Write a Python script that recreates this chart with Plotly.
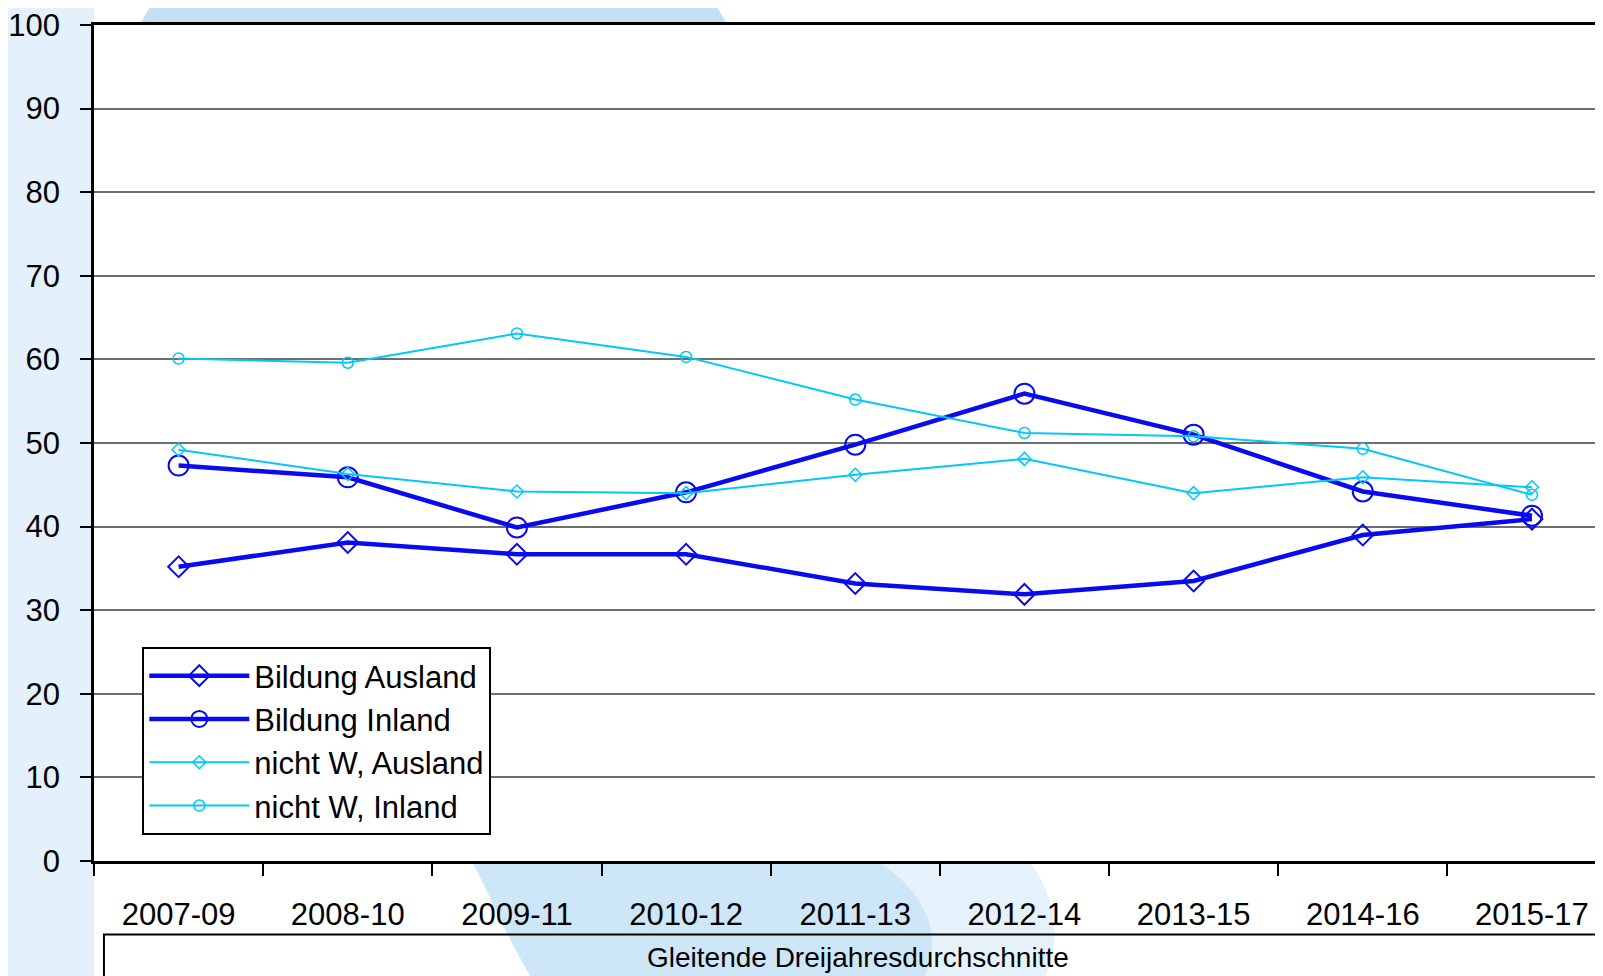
import plotly.graph_objects as go

periods = ["2007-09", "2008-10", "2009-11", "2010-12", "2011-13",
           "2012-14", "2013-15", "2014-16", "2015-17"]

bildung_ausland = [35.2, 38.1, 36.7, 36.7, 33.2, 31.9, 33.5, 39.0, 40.9]
bildung_inland = [47.3, 45.9, 39.9, 44.1, 49.8, 55.9, 51.0, 44.2, 41.3]
nichtw_ausland = [49.2, 46.3, 44.2, 44.0, 46.2, 48.1, 44.0, 45.9, 44.7]
nichtw_inland = [60.1, 59.6, 63.1, 60.3, 55.2, 51.2, 50.8, 49.3, 43.8]

y_ticks = list(range(0, 101, 10))

FONT = "Liberation Sans, Arial, sans-serif"
BLUE = "#0a0aee"
CYAN = "#00c8f8"

fig = go.Figure()

fig.add_trace(go.Scatter(
    x=periods, y=bildung_ausland, mode="lines+markers", name="Bildung Ausland",
    line=dict(color=BLUE, width=4.5),
    marker=dict(symbol="diamond-open", size=16, color=BLUE, line=dict(width=2, color=BLUE))
))
fig.add_trace(go.Scatter(
    x=periods, y=bildung_inland, mode="lines+markers", name="Bildung Inland",
    line=dict(color=BLUE, width=4.5),
    marker=dict(symbol="circle-open", size=20, color=BLUE, line=dict(width=2, color=BLUE))
))
fig.add_trace(go.Scatter(
    x=periods, y=nichtw_ausland, mode="lines+markers", name="nicht W, Ausland",
    line=dict(color=CYAN, width=2),
    marker=dict(symbol="diamond-open", size=10, color=CYAN, line=dict(width=1.5, color=CYAN))
))
fig.add_trace(go.Scatter(
    x=periods, y=nichtw_inland, mode="lines+markers", name="nicht W, Inland",
    line=dict(color=CYAN, width=2),
    marker=dict(symbol="circle-open", size=11, color=CYAN, line=dict(width=1.5, color=CYAN))
))

# decorative light-blue background swooshes
fig.add_shape(type="rect", xref="paper", yref="paper", x0=-0.07, x1=0.0, y0=-0.2, y1=1.05,
              fillcolor="#e4f0fb", line_width=0, layer="below")
fig.add_shape(type="path", xref="paper", yref="paper",
              path="M 0.03 1.0 L 0.42 1.0 L 0.41 1.03 L 0.04 1.03 Z",
              fillcolor="#c4e0f6", line_width=0, layer="below")
fig.add_shape(type="path", xref="paper", yref="paper",
              path="M 0.25 0.0 L 0.52 0.0 C 0.56 -0.05, 0.56 -0.1, 0.55 -0.14 L 0.29 -0.14 C 0.27 -0.08, 0.26 -0.03, 0.25 0.0 Z",
              fillcolor="#cde6f8", line_width=0, layer="below")
fig.add_shape(type="path", xref="paper", yref="paper",
              path="M 0.52 0.0 L 0.62 0.0 C 0.64 -0.05, 0.64 -0.1, 0.63 -0.14 L 0.55 -0.14 C 0.56 -0.1, 0.56 -0.05, 0.52 0.0 Z",
              fillcolor="#e6f2fb", line_width=0, layer="below")

# multi-level category box
fig.add_shape(type="rect", xref="paper", yref="paper", x0=0.0066, x1=1.02, y0=-0.088, y1=-0.2,
              line=dict(color="black", width=2), fillcolor="rgba(0,0,0,0)")
fig.add_annotation(text="Gleitende Dreijahresdurchschnitte", xref="paper", yref="paper",
                   x=0.506, y=-0.115, showarrow=False, yanchor="middle",
                   font=dict(family=FONT, size=28, color="black"))

fig.update_layout(
    width=1595, height=968,
    margin=dict(l=84, r=0, t=16, b=115),
    paper_bgcolor="white", plot_bgcolor="white",
    font=dict(family=FONT, size=31, color="black"),
    showlegend=True,
    legend=dict(
        x=0.032, y=0.256, xanchor="left", yanchor="top",
        bgcolor="white", bordercolor="black", borderwidth=2,
        font=dict(family=FONT, size=31, color="black"),
        tracegroupgap=0, itemwidth=100,
    ),
)

fig.update_xaxes(
    type="category", range=[-0.5, 8.42],
    showline=True, linecolor="black", linewidth=3, mirror=True,
    ticks="outside", tickson="boundaries", ticklen=12, tickwidth=2, tickcolor="black",
    ticklabelstandoff=24, showgrid=False,
    tickfont=dict(family=FONT, size=31, color="black"),
)
fig.update_yaxes(
    range=[0, 100], tickvals=y_ticks,
    showline=True, linecolor="black", linewidth=2.5,
    ticks="outside", ticklen=11, tickwidth=2, tickcolor="black",
    ticklabelstandoff=14, ticklabeloverflow="allow",
    showgrid=True, gridcolor="#6e6e6e", gridwidth=1.5, zeroline=False,
    tickfont=dict(family=FONT, size=31, color="black"),
)

fig.write_html("out.html")
